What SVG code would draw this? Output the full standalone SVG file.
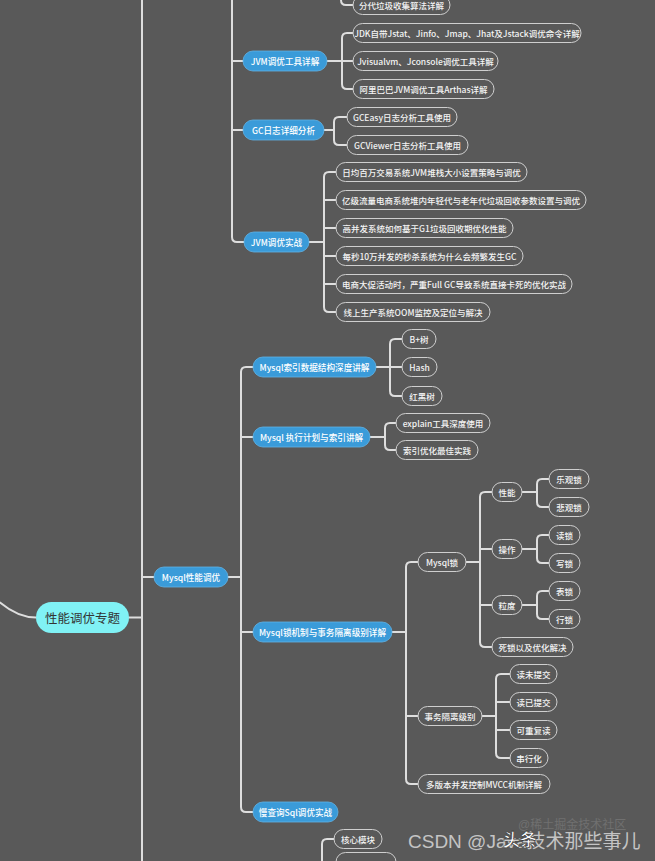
<svg xmlns="http://www.w3.org/2000/svg" width="655" height="861" viewBox="0 0 655 861">
<defs>
<style>
.bg{fill:#595959}
.ln{fill:none;stroke:#dedede;stroke-width:2;stroke-linecap:round;stroke-linejoin:round}
.o rect{fill:#595959;stroke:#cfcfcf;stroke-width:1}
.o text{fill:#f4f4f4;font-family:"Noto Sans CJK SC","Noto Sans",sans-serif;font-size:8.5px;font-weight:500;text-anchor:middle;dominant-baseline:central}
.b rect{fill:#3a9bd9;stroke:#5fb3e6;stroke-width:0.8}
.b text{fill:#ffffff;font-family:"Noto Sans CJK SC","Noto Sans",sans-serif;font-size:8.6px;font-weight:500;text-anchor:middle;dominant-baseline:central}
.r rect{fill:#80f2f5}
.r text{fill:#333333;font-family:"Noto Sans CJK SC","Noto Sans",sans-serif;font-size:12.5px;text-anchor:middle;dominant-baseline:central}
.wm{font-family:"Liberation Sans","Noto Sans CJK SC",sans-serif}
</style>
</defs>
<rect class="bg" x="0" y="0" width="655" height="861"/>

<g id="connectors" class="ln">
<path d="M0,602.5 Q18,617.5 36,617.5"/>
<path d="M142,-2 V863"/>
<path d="M129,617.5 H142"/>
<path d="M142,577 H154"/>
<path d="M341,-2 V0 Q341,5 346,5 H353"/>
<path d="M232,-2 V237 Q232,242 237,242 H244"/>
<path d="M232,61 H243"/>
<path d="M232,130 H243"/>
<path d="M327,61 H353"/>
<path d="M353,33 H347 Q342,33 342,38 V84 Q342,89 347,89 H353"/>
<path d="M324,130 H334"/>
<path d="M347,117 H339 Q334,117 334,122 V140 Q334,145 339,145 H347"/>
<path d="M309,242 H324"/>
<path d="M336,172 H329 Q324,172 324,177 V307 Q324,312 329,312 H336"/>
<path d="M324,200 H336 M324,228 H336 M324,256 H336 M324,284 H336"/>
<path d="M228,577 H241"/>
<path d="M253,367 H246 Q241,367 241,372 V807 Q241,812 246,812 H253"/>
<path d="M241,437 H253 M241,632 H253"/>
<path d="M376,367 H402"/>
<path d="M402,339 H395 Q390,339 390,344 V391 Q390,396 395,396 H402"/>
<path d="M370,437 H385"/>
<path d="M396,423 H390 Q385,423 385,428 V445 Q385,450 390,450 H396"/>
<path d="M392,632 H406"/>
<path d="M418,562 H411 Q406,562 406,567 V779 Q406,784 411,784 H418"/>
<path d="M406,716 H418"/>
<path d="M466,562 H480"/>
<path d="M492,492 H485 Q480,492 480,497 V642 Q480,647 485,647 H492"/>
<path d="M480,549 H492 M480,605 H492"/>
<path d="M522,492 H537"/>
<path d="M549,479 H542 Q537,479 537,484 V502 Q537,507 542,507 H549"/>
<path d="M522,549 H537"/>
<path d="M549,535 H542 Q537,535 537,540 V558 Q537,563 542,563 H549"/>
<path d="M522,605 H537"/>
<path d="M549,591 H542 Q537,591 537,596 V614 Q537,619 542,619 H549"/>
<path d="M482,716 H496"/>
<path d="M510,674 H501 Q496,674 496,679 V753 Q496,758 501,758 H510"/>
<path d="M496,702 H510 M496,730 H510"/>
<path d="M334,839 H327 Q322,839 322,844 V863"/>
</g>

<g id="root" class="r"><rect x="36" y="602" width="93" height="31" rx="15.5"/><text x="82.5" y="617.5">性能调优专题</text></g>

<g id="n-jvm-tools" class="b"><rect x="243" y="51" width="84" height="20" rx="10"/><text x="285" y="61">JVM调优工具详解</text></g>
<g id="n-gc-log" class="b"><rect x="243" y="120" width="81" height="20" rx="10"/><text x="283.5" y="130">GC日志详细分析</text></g>
<g id="n-jvm-practice" class="b"><rect x="244" y="232" width="65" height="20" rx="10"/><text x="276.5" y="242">JVM调优实战</text></g>
<g id="n-mysql" class="b"><rect x="154" y="567" width="74" height="20" rx="10"/><text x="191" y="577">Mysql性能调优</text></g>
<g id="n-mysql-index" class="b"><rect x="253" y="357" width="123" height="20" rx="10"/><text x="314.5" y="367">Mysql索引数据结构深度讲解</text></g>
<g id="n-mysql-explain" class="b"><rect x="253" y="427" width="117" height="20" rx="10"/><text x="311.5" y="437">Mysql 执行计划与索引讲解</text></g>
<g id="n-mysql-lock" class="b"><rect x="253" y="622" width="139" height="20" rx="10"/><text x="322.5" y="632">Mysql锁机制与事务隔离级别详解</text></g>
<g id="n-slow-sql" class="b"><rect x="253" y="802" width="85" height="20" rx="10"/><text x="295.5" y="812">慢查询Sql调优实战</text></g>

<g id="n1" class="o"><rect x="353" y="-4.5" width="97" height="19" rx="9.5"/><text x="401.5" y="5">分代垃圾收集算法详解</text></g>
<g id="n2" class="o"><rect x="353" y="23.5" width="228" height="19" rx="9.5"/><text x="467" y="33">JDK自带Jstat、Jinfo、Jmap、Jhat及Jstack调优命令详解</text></g>
<g id="n3" class="o"><rect x="353" y="51.5" width="145" height="19" rx="9.5"/><text x="425.5" y="61">Jvisualvm、Jconsole调优工具详解</text></g>
<g id="n4" class="o"><rect x="353" y="79.5" width="141" height="19" rx="9.5"/><text x="423.5" y="89">阿里巴巴JVM调优工具Arthas详解</text></g>
<g id="n5" class="o"><rect x="347" y="107.5" width="110" height="19" rx="9.5"/><text x="402" y="117">GCEasy日志分析工具使用</text></g>
<g id="n6" class="o"><rect x="347" y="135.5" width="121" height="19" rx="9.5"/><text x="407.5" y="145">GCViewer日志分析工具使用</text></g>
<g id="n7" class="o"><rect x="336" y="162.5" width="191" height="19" rx="9.5"/><text x="431.5" y="172">日均百万交易系统JVM堆栈大小设置策略与调优</text></g>
<g id="n8" class="o"><rect x="336" y="190.5" width="250" height="19" rx="9.5"/><text x="461" y="200">亿级流量电商系统堆内年轻代与老年代垃圾回收参数设置与调优</text></g>
<g id="n9" class="o"><rect x="336" y="218.5" width="177" height="19" rx="9.5"/><text x="424.5" y="228">高并发系统如何基于G1垃圾回收期优化性能</text></g>
<g id="n10" class="o"><rect x="336" y="246.5" width="187" height="19" rx="9.5"/><text x="429.5" y="256">每秒10万并发的秒杀系统为什么会频繁发生GC</text></g>
<g id="n11" class="o"><rect x="336" y="274.5" width="236" height="19" rx="9.5"/><text x="454" y="284">电商大促活动时，严重Full GC导致系统直接卡死的优化实战</text></g>
<g id="n12" class="o"><rect x="336" y="302.5" width="154" height="19" rx="9.5"/><text x="413" y="312">线上生产系统OOM监控及定位与解决</text></g>
<g id="n13" class="o"><rect x="402" y="329.5" width="34" height="19" rx="9.5"/><text x="419" y="339">B+树</text></g>
<g id="n14" class="o"><rect x="402" y="357.5" width="35" height="19" rx="9.5"/><text x="419.5" y="367">Hash</text></g>
<g id="n15" class="o"><rect x="402" y="386.5" width="40" height="19" rx="9.5"/><text x="422" y="396">红黑树</text></g>
<g id="n16" class="o"><rect x="396" y="413.5" width="94" height="19" rx="9.5"/><text x="443" y="423">explain工具深度使用</text></g>
<g id="n17" class="o"><rect x="396" y="440.5" width="82" height="19" rx="9.5"/><text x="437" y="450">索引优化最佳实践</text></g>
<g id="n18" class="o"><rect x="418" y="552.5" width="48" height="19" rx="9.5"/><text x="442" y="562">Mysql锁</text></g>
<g id="n19" class="o"><rect x="492" y="482.5" width="30" height="19" rx="9.5"/><text x="507" y="492">性能</text></g>
<g id="n20" class="o"><rect x="549" y="469.5" width="40" height="19" rx="9.5"/><text x="569" y="479">乐观锁</text></g>
<g id="n21" class="o"><rect x="549" y="497.5" width="40" height="19" rx="9.5"/><text x="569" y="507">悲观锁</text></g>
<g id="n22" class="o"><rect x="492" y="539.5" width="30" height="19" rx="9.5"/><text x="507" y="549">操作</text></g>
<g id="n23" class="o"><rect x="549" y="525.5" width="31" height="19" rx="9.5"/><text x="564.5" y="535">读锁</text></g>
<g id="n24" class="o"><rect x="549" y="553.5" width="31" height="19" rx="9.5"/><text x="564.5" y="563">写锁</text></g>
<g id="n25" class="o"><rect x="492" y="595.5" width="30" height="19" rx="9.5"/><text x="507" y="605">粒度</text></g>
<g id="n26" class="o"><rect x="549" y="581.5" width="31" height="19" rx="9.5"/><text x="564.5" y="591">表锁</text></g>
<g id="n27" class="o"><rect x="549" y="609.5" width="31" height="19" rx="9.5"/><text x="564.5" y="619">行锁</text></g>
<g id="n28" class="o"><rect x="492" y="637.5" width="81" height="19" rx="9.5"/><text x="532.5" y="647">死锁以及优化解决</text></g>
<g id="n29" class="o"><rect x="418" y="706.5" width="64" height="19" rx="9.5"/><text x="450" y="716">事务隔离级别</text></g>
<g id="n30" class="o"><rect x="510" y="664.5" width="47" height="19" rx="9.5"/><text x="533.5" y="674">读未提交</text></g>
<g id="n31" class="o"><rect x="510" y="692.5" width="47" height="19" rx="9.5"/><text x="533.5" y="702">读已提交</text></g>
<g id="n32" class="o"><rect x="510" y="720.5" width="47" height="19" rx="9.5"/><text x="533.5" y="730">可重复读</text></g>
<g id="n33" class="o"><rect x="510" y="748.5" width="38" height="19" rx="9.5"/><text x="529" y="758">串行化</text></g>
<g id="n34" class="o"><rect x="418" y="774.5" width="132" height="19" rx="9.5"/><text x="484" y="784">多版本并发控制MVCC机制详解</text></g>
<g id="n35" class="o"><rect x="334" y="829.5" width="48" height="19" rx="9.5"/><text x="358" y="839">核心模块</text></g>
<g id="n36" class="o"><rect x="336" y="852.5" width="60" height="19" rx="9.5"/></g>

<g id="watermark" class="wm">
<text x="518" y="829" font-size="12" fill="#707070">@稀土掘金技术社区</text>
<text x="408" y="848" font-size="19" fill="#c4c4c4">CSDN @Java技术那些事儿</text>
<text x="503" y="846" font-size="17" font-weight="bold" fill="#ffffff" stroke="#333333" stroke-width="0.6">头条</text>
</g>
</svg>
